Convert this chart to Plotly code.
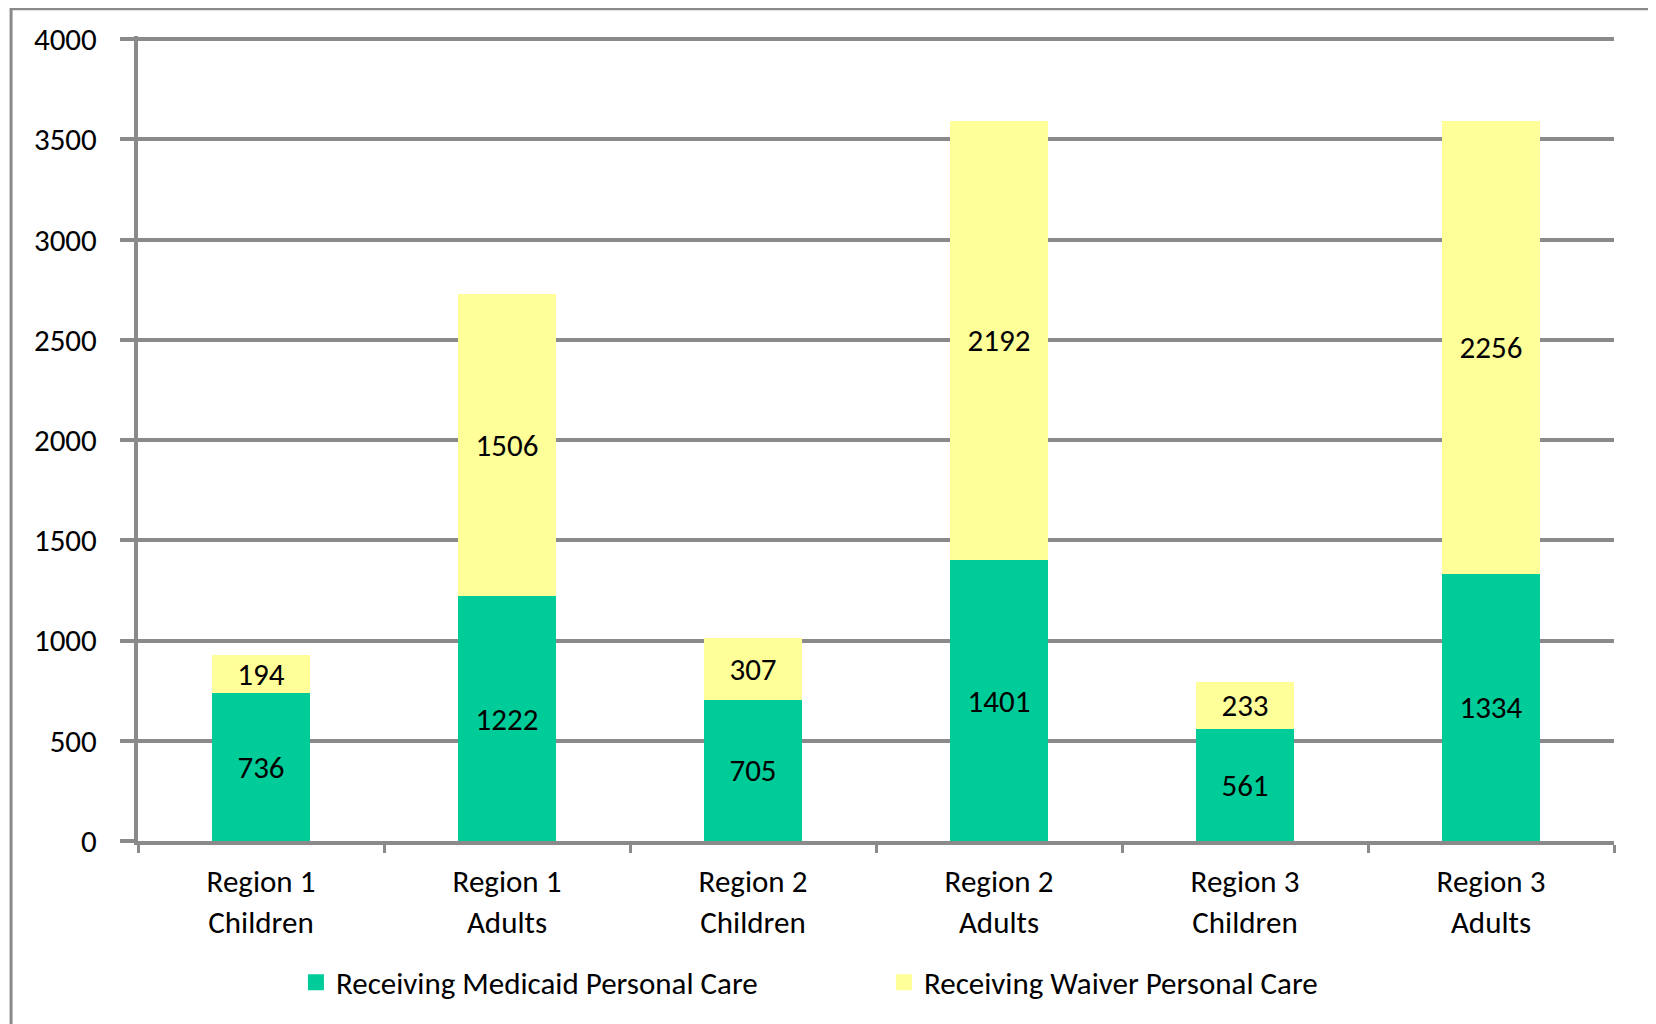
import plotly.graph_objects as go

categories = ["Region 1<br>Children", "Region 1<br>Adults", "Region 2<br>Children",
              "Region 2<br>Adults", "Region 3<br>Children", "Region 3<br>Adults"]
medicaid = [736, 1222, 705, 1401, 561, 1334]
waiver = [194, 1506, 307, 2192, 233, 2256]
series_names = ["Receiving Medicaid Personal Care", "Receiving Waiver Personal Care"]
colors = ["#00CC99", "#FFFF99"]
y_ticks = [0, 500, 1000, 1500, 2000, 2500, 3000, 3500, 4000]

FONT = "Carlito, Calibri, Lato, sans-serif"
FS = 31
GRAY = "#8A8A8A"

fig = go.Figure()
for name, vals, col in [(series_names[0], medicaid, colors[0]), (series_names[1], waiver, colors[1])]:
    fig.add_trace(go.Bar(
        x=categories, y=vals, name=name, marker=dict(color=col, line=dict(width=0)),
        text=[str(v) for v in vals], textposition="inside", insidetextanchor="middle",
        constraintext="none",
        textfont=dict(family=FONT, size=FS, color="black"), textangle=0,
        showlegend=False, hoverinfo="skip",
    ))
# legend entries
for name, col in zip(series_names, colors):
    fig.add_trace(go.Scatter(
        x=[None], y=[None], mode="markers", name=name,
        marker=dict(symbol="square", size=16, color=col), showlegend=True,
    ))

fig.update_layout(
    width=1648, height=1016,
    barmode="stack", bargap=0.6,
    paper_bgcolor="white", plot_bgcolor="white",
    margin=dict(l=130, r=42, t=28, b=183),
    font=dict(family=FONT, size=FS, color="black"),
    uniformtext=dict(mode=False),
    xaxis=dict(
        type="category", showline=True, linecolor=GRAY, linewidth=4,
        ticks="outside", tickson="boundaries", ticklen=8, tickwidth=3, tickcolor=GRAY,
        showgrid=False, tickfont=dict(family=FONT, size=FS, color="black"),
        ticklabelstandoff=10,
    ),
    yaxis=dict(
        range=[0, 4016], tickvals=y_ticks, showgrid=True, gridcolor=GRAY, gridwidth=4,
        showline=True, linecolor=GRAY, linewidth=4, zeroline=False,
        ticks="outside", ticklen=14, tickwidth=4, tickcolor=GRAY,
        tickfont=dict(family=FONT, size=FS, color="black"),
        ticklabelstandoff=17,
    ),
    legend=dict(
        orientation="h", x=0.107, xanchor="left", y=-0.176, yanchor="middle",
        traceorder="normal",
        font=dict(family=FONT, size=FS, color="black"),
        entrywidth=543, entrywidthmode="pixels", bgcolor="rgba(0,0,0,0)",
        itemclick=False, itemdoubleclick=False,
    ),
    shapes=[dict(
        type="rect", xref="paper", yref="paper",
        x0=-0.086, x1=1.0271, y0=-0.26, y1=1.034,
        line=dict(color=GRAY, width=3), fillcolor="rgba(0,0,0,0)", layer="below",
    )],
)

fig.write_html("out.html")
